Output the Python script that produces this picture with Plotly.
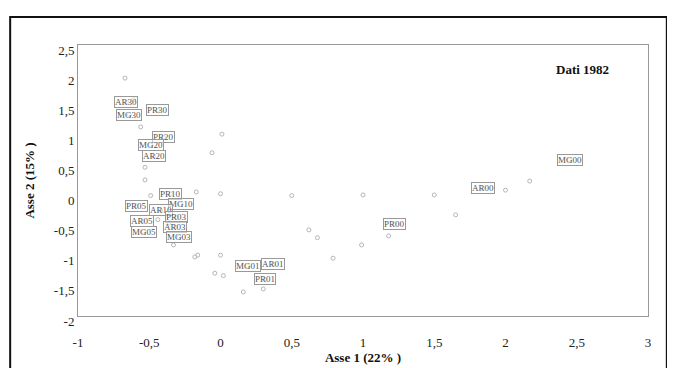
import plotly.graph_objects as go

# Labeled points (Asse 1, Asse 2)
labels = ["AR30", "MG30", "PR30", "PR20", "MG20", "AR20", "PR10", "MG10", "PR05", "AR10",
          "AR05", "PR03", "AR03", "MG05", "MG03", "MG01", "AR01", "PR01", "PR00", "AR00", "MG00"]
lab_x = [-0.66, -0.64, -0.44, -0.40, -0.49, -0.47, -0.35, -0.28, -0.59, -0.42,
         -0.55, -0.31, -0.32, -0.54, -0.29, 0.19, 0.37, 0.31, 1.22, 1.84, 2.45]
lab_y = [1.55, 1.34, 1.42, 0.97, 0.84, 0.66, 0.03, -0.14, -0.17, -0.24,
         -0.42, -0.36, -0.52, -0.60, -0.69, -1.17, -1.14, -1.39, -0.47, 0.13, 0.59]

# Unlabeled (supplementary) points
pts_x = [-0.67, -0.61, -0.56, -0.53, -0.53, 0.01, -0.06, -0.17, 0.00, 0.50,
         -0.49, -0.44, -0.36, -0.33, -0.18, -0.16, 0.00, -0.04, 0.02, 0.16, 0.30,
         1.00, 1.50, 1.65, 0.62, 0.68, 0.99, 0.79, 1.18, 2.00, 2.17]
pts_y = [1.95, 1.59, 1.14, 0.47, 0.26, 1.02, 0.71, 0.06, 0.03, 0.00,
         0.00, -0.40, -0.45, -0.82, -1.02, -0.99, -0.99, -1.29, -1.33, -1.60, -1.55,
         0.01, 0.01, -0.32, -0.57, -0.70, -0.82, -1.04, -0.67, 0.09, 0.24]

x_ticks = [-1, -0.5, 0, 0.5, 1, 1.5, 2, 2.5, 3]
x_ticktext = ["-1", "-0,5", "0", "0,5", "1", "1,5", "2", "2,5", "3"]
y_ticks = [-2, -1.5, -1, -0.5, 0, 0.5, 1, 1.5, 2, 2.5]
y_ticktext = ["-2", "-1,5", "-1", "-0,5", "0", "0,5", "1", "1,5", "2", "2,5"]

FONT = "Liberation Serif"

fig = go.Figure()
fig.add_trace(go.Scatter(
    x=pts_x, y=pts_y, mode="markers",
    marker=dict(symbol="circle-open", size=4, color="#b5b5b5", line=dict(width=1)),
    hoverinfo="skip", showlegend=False))
fig.add_trace(go.Scatter(
    x=lab_x, y=lab_y, mode="markers",
    marker=dict(symbol="circle-open", size=4, color="#c0c0c0", line=dict(width=1)),
    hoverinfo="skip", showlegend=False))

for t, x, y in zip(labels, lab_x, lab_y):
    fig.add_annotation(x=x, y=y, text=t, showarrow=False,
                       font=dict(family=FONT, size=9, color="#555"),
                       bordercolor="#999", borderwidth=1, borderpad=0,
                       bgcolor="rgba(255,255,255,0.5)")

fig.add_annotation(x=2.54, y=2.09, text="<b>Dati 1982</b>", showarrow=False,
                   font=dict(family=FONT, size=13, color="#111"))

# outer frame
fig.add_shape(type="rect", xref="paper", yref="paper",
              x0=-0.119, x1=1.033, y0=-0.25, y1=1.103,
              line=dict(color="#111", width=2), layer="below")

fig.update_layout(
    width=675, height=368,
    margin=dict(l=70, r=35, t=37, b=60),
    paper_bgcolor="white", plot_bgcolor="white",
    font=dict(family=FONT, size=13, color="#222"),
    showlegend=False,
)
fig.update_xaxes(range=[-1, 3], tickvals=x_ticks, ticktext=x_ticktext,
                 showgrid=False, zeroline=False, showline=True, mirror=True,
                 linecolor="#999", linewidth=1, ticks="",
                 ticklabelstandoff=14,
                 tickfont=dict(family=FONT, size=13, color="#222"),
                 title=dict(text="<b>Asse 1 (22% )</b>", standoff=1,
                            font=dict(family=FONT, size=13, color="#111")))
fig.update_yaxes(range=[-2, 2.5], tickvals=y_ticks, ticktext=y_ticktext,
                 showgrid=False, zeroline=False, showline=True, mirror=True,
                 linecolor="#999", linewidth=1, ticks="",
                 ticklabelshift=5,
                 tickfont=dict(family=FONT, size=13, color="#222"),
                 title=dict(text="<b>Asse 2 (15% )</b>", standoff=16,
                            font=dict(family=FONT, size=13, color="#111")))

fig.write_html("out.html")
